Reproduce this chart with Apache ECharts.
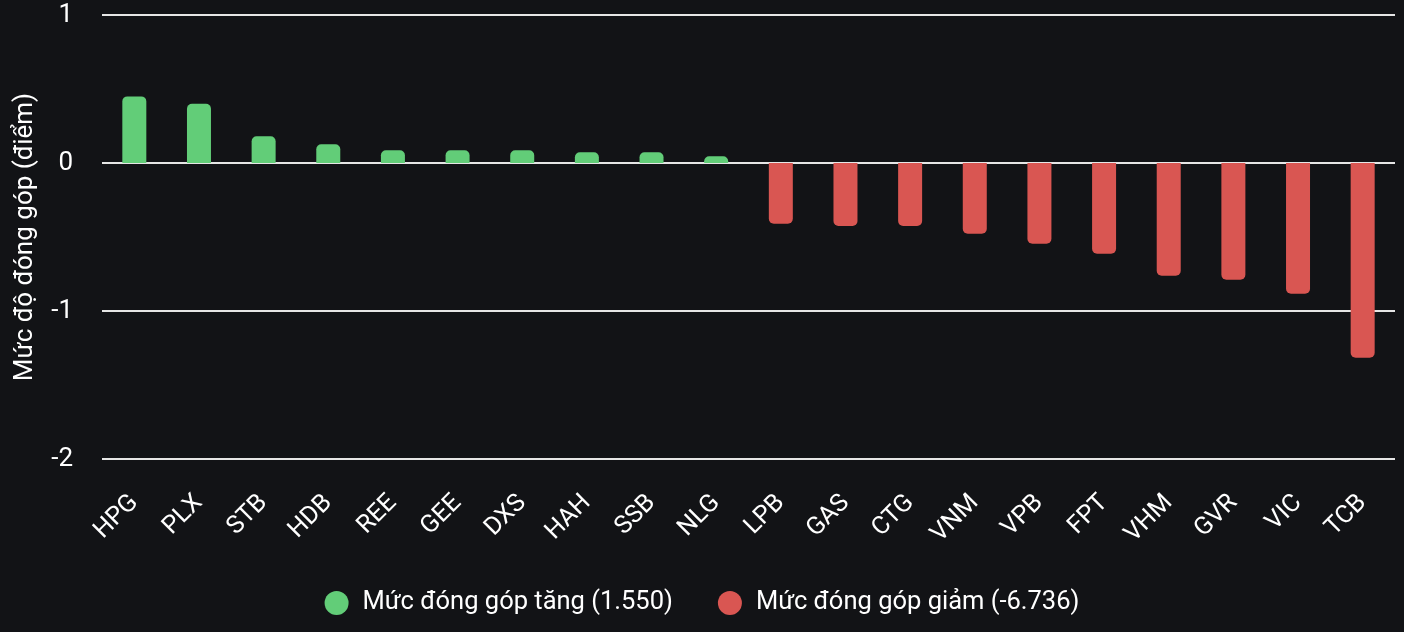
<!DOCTYPE html>
<html><head><meta charset="utf-8">
<script src="https://cdn.jsdelivr.net/npm/echarts@6/dist/echarts.min.js"></script>
<style>html,body{margin:0;padding:0;background:#121316;}#c{width:1404px;height:632px;}</style>
</head><body><div id="c"></div>
<script>
const categories = ['HPG','PLX','STB','HDB','REE','GEE','DXS','HAH','SSB','NLG','LPB','GAS','CTG','VNM','VPB','FPT','VHM','GVR','VIC','TCB'];
const gainValues = [0.45,0.40,0.18,0.126,0.086,0.086,0.086,0.072,0.072,0.045,null,null,null,null,null,null,null,null,null,null];
const lossValues = [null,null,null,null,null,null,null,null,null,null,-0.41,-0.426,-0.426,-0.478,-0.545,-0.613,-0.761,-0.789,-0.883,-1.316];
const gainName = 'Mức đóng góp tăng (1.550)';
const lossName = 'Mức đóng góp giảm (-6.736)';
const yAxisName = 'Mức độ đóng góp (điểm)';

const chart = echarts.init(document.getElementById('c'));
chart.setOption({
  backgroundColor: '#121316',
  textStyle: { fontFamily: 'Roboto' },
  grid: { left: 102, right: 9, top: 15, bottom: 173 },
  legend: {
    bottom: 11, left: 'center', icon: 'circle', itemWidth: 24, itemHeight: 24, itemGap: 45,
    textStyle: { color: '#ffffff', fontSize: 25.5, fontFamily: 'Roboto', padding: [0, 0, 0, 9] },
    data: [gainName, lossName]
  },
  xAxis: {
    type: 'category', data: categories,
    axisLine: { show: false }, axisTick: { show: false },
    axisLabel: { color: '#ffffff', fontSize: 25, rotate: 45, interval: 0, margin: 40, fontFamily: 'Roboto' }
  },
  yAxis: {
    type: 'value', min: -2, max: 1, interval: 1,
    name: yAxisName, nameLocation: 'middle', nameGap: 64, nameRotate: 90,
    nameTextStyle: { color: '#ffffff', fontSize: 26, fontFamily: 'Roboto' },
    axisLabel: { color: '#ffffff', fontSize: 26, margin: 29, fontFamily: 'Roboto' },
    axisLine: { show: false }, axisTick: { show: false },
    splitLine: { lineStyle: { color: '#e6e6e6', width: 2 } }
  },
  series: [
    { name: gainName, type: 'bar', data: gainValues, barWidth: 24, barGap: '-100%',
      itemStyle: { color: '#62cd78', borderRadius: [5,5,0,0] } },
    { name: lossName, type: 'bar', data: lossValues, barWidth: 24, barGap: '-100%',
      itemStyle: { color: '#d95652', borderRadius: [0,0,5,5] } }
  ]
});
</script></body></html>
